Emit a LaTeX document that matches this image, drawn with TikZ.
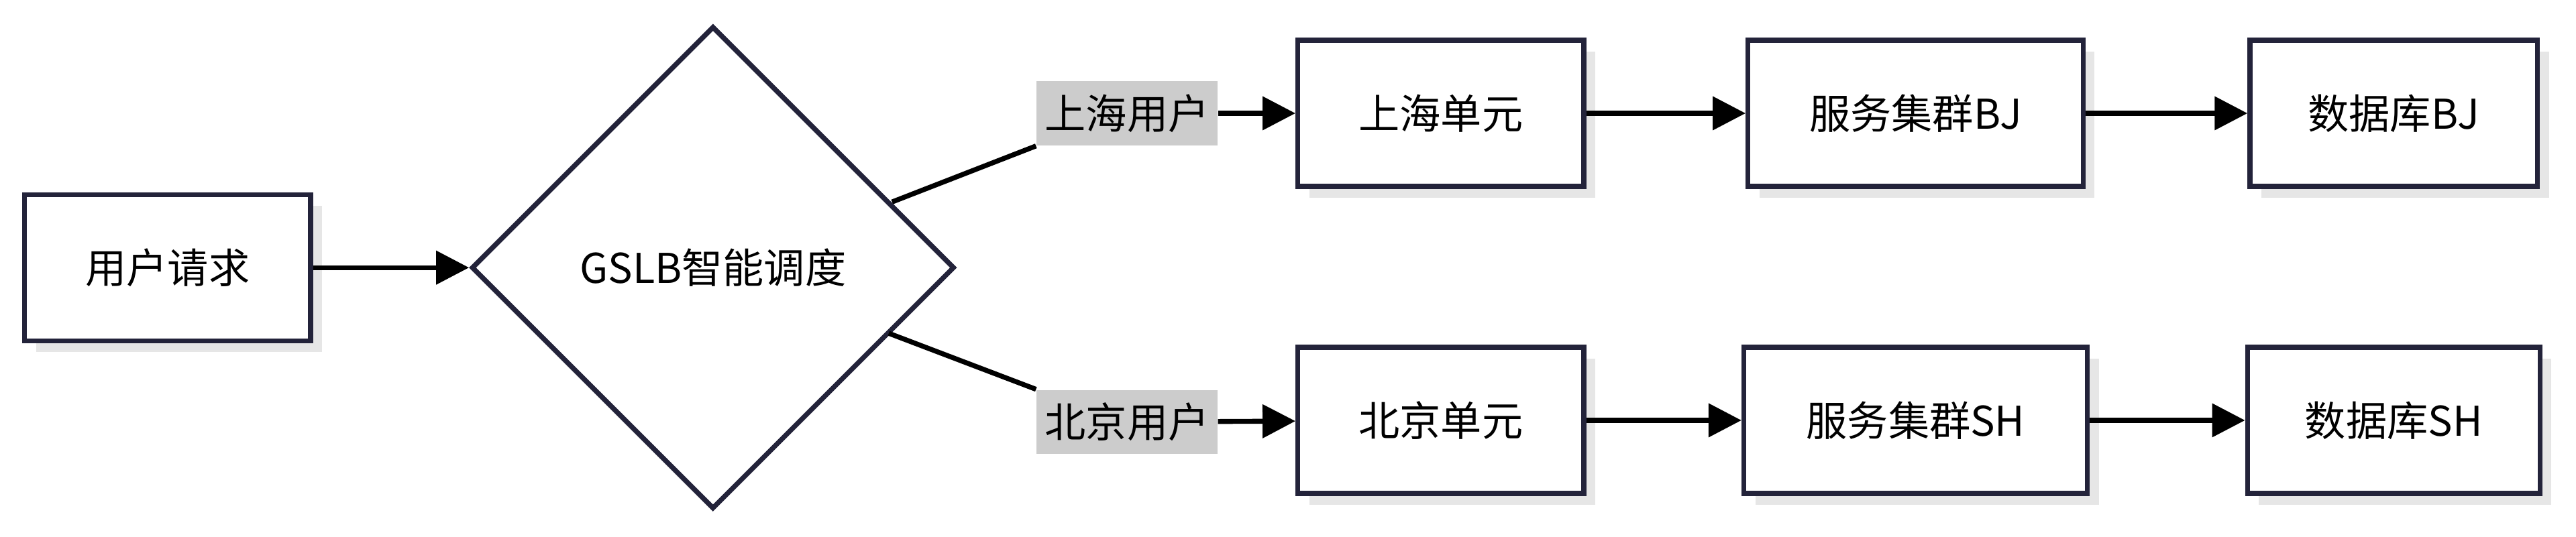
\documentclass[tikz,border=0pt]{standalone}
\usepackage{fontspec}
\setmainfont{Noto Sans CJK SC}
\usetikzlibrary{shapes.geometric,arrows.meta}
\definecolor{ink}{HTML}{23233A}
\definecolor{shade}{HTML}{E6E6E6}
\definecolor{lab}{HTML}{CCCCCC}
\tikzset{
 box/.style={draw=ink,line width=1.5pt,fill=white,minimum height=44.5pt,inner sep=0pt,font=\fontsize{12.5}{14}\selectfont,
   preaction={fill=shade,draw=none,transform canvas={shift={(3.5pt,-3.5pt)}}}},
 lbl/.style={fill=lab,minimum width=55pt,minimum height=19.5pt,inner sep=0pt,font=\fontsize{12.5}{14}\selectfont},
 arr/.style={line width=1.5pt,-{Triangle[length=10pt,width=10pt]}},
 ln/.style={line width=1.5pt}
}
\begin{document}
\begin{tikzpicture}[x=0.5pt,y=-0.5pt]
\useasboundingbox (0,0) rectangle (1568,327);
\node[box,minimum width=87pt] (req) at (102,163) {用户请求};
\node[draw=ink,line width=1.5pt,fill=white,diamond,aspect=1,minimum size=147pt,inner sep=0pt,font=\fontsize{12.5}{14}\selectfont] (g) at (434,163) {GSLB智能调度};
\node[lbl] (shu) at (686,69) {上海用户};
\node[lbl] (bju) at (686,257) {北京用户};
\node[box,minimum width=87pt] (shc) at (877,69) {上海单元};
\node[box,minimum width=102pt] (sbj) at (1166,69) {服务集群BJ};
\node[box,minimum width=87.5pt] (dbj) at (1457,69) {数据库BJ};
\node[box,minimum width=87pt] (bjc) at (877,256) {北京单元};
\node[box,minimum width=104.5pt] (ssh) at (1166,256) {服务集群SH};
\node[box,minimum width=89pt] (dsh) at (1457,256) {数据库SH};
\draw[arr] (req.east) -- (g.west);
\draw[ln] (543,123) -- (shu.south west);
\draw[ln] (541,203) -- (bju.north west);
\draw[arr] (shu) -- (shc);
\draw[arr] (bju) -- (bjc);
\draw[arr] (shc) -- (sbj);
\draw[arr] (sbj) -- (dbj);
\draw[arr] (bjc) -- (ssh);
\draw[arr] (ssh) -- (dsh);
\end{tikzpicture}
\end{document}
